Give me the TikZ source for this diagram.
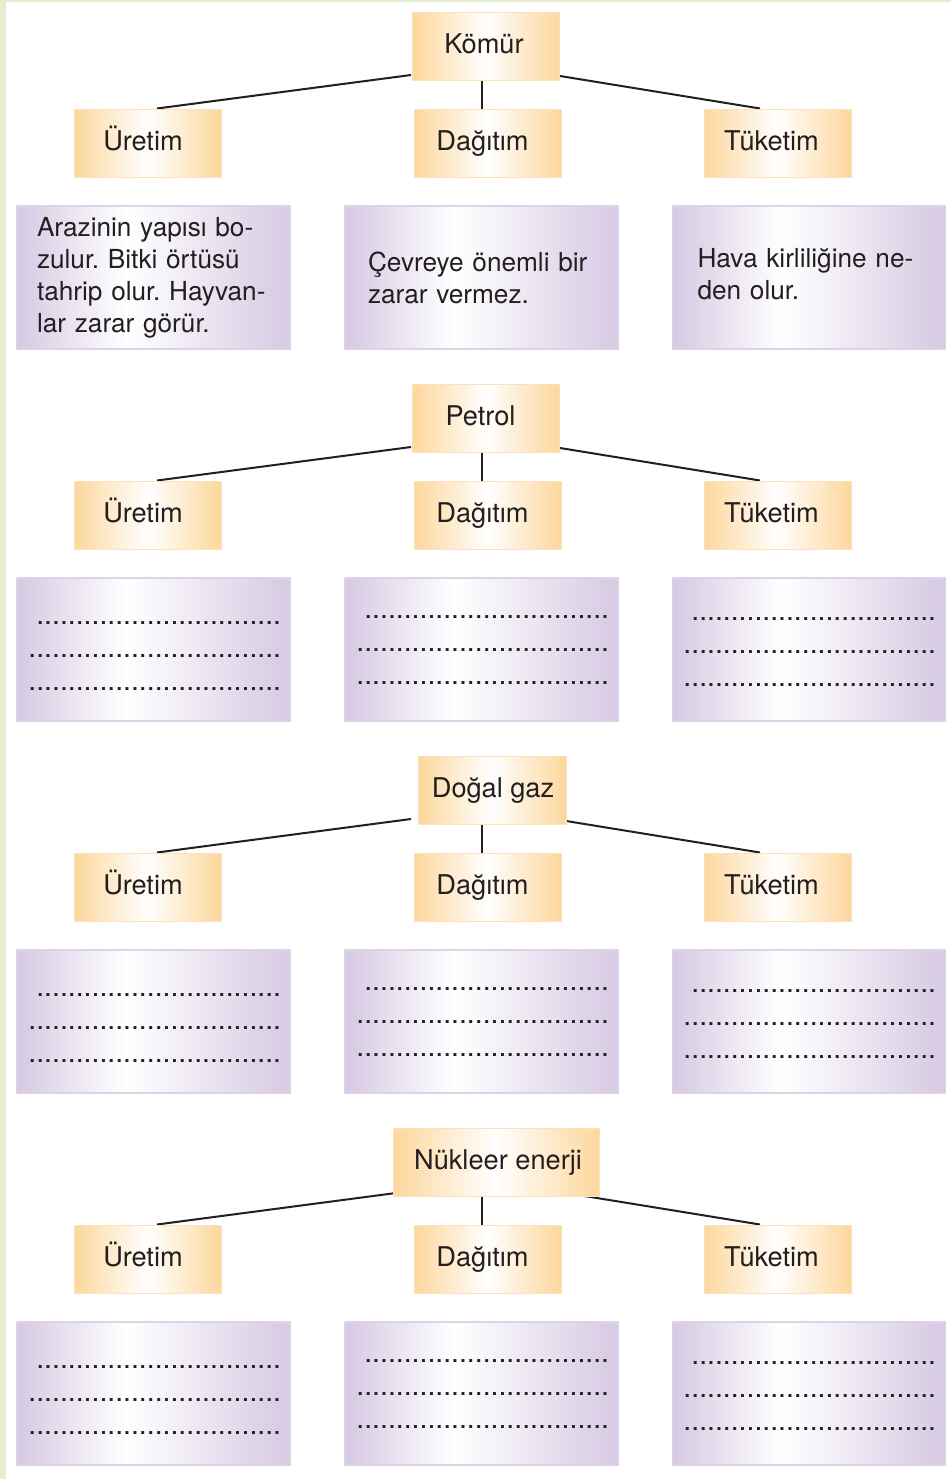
\documentclass[tikz,border=0pt]{standalone}
\usepackage{fontspec}
\setmainfont{TeX Gyre Heros}
\frenchspacing
\definecolor{pagegreen}{RGB}{230,236,205}
\definecolor{org}{RGB}{253,215,156}
\definecolor{orgline}{RGB}{252,226,188}
\definecolor{prp}{RGB}{214,201,227}
\definecolor{prpline}{RGB}{221,211,233}
\definecolor{ink}{RGB}{35,31,32}
\pgfdeclarehorizontalshading{orgshade}{100bp}{color(0bp)=(org); color(25bp)=(org); color(50bp)=(white); color(75bp)=(org); color(100bp)=(org)}
\pgfdeclarehorizontalshading{prpshade}{100bp}{color(0bp)=(prp); color(25bp)=(prp); color(45bp)=(white); color(75bp)=(prp); color(100bp)=(prp)}
\pgfdeclarelayer{bg}
\pgfdeclarelayer{lines}
\pgfsetlayers{bg,lines,main}
\tikzset{
  obox/.style={shading=orgshade, draw=orgline, line width=0.5pt, inner sep=0pt,
    minimum height=34pt, text height=10pt, text depth=3pt,
    font=\fontsize{13.6}{16}\selectfont, text=ink},
  kid/.style={obox, minimum width=73.5pt},
  pbox/.style={shading=prpshade, draw=prpline, line width=0.6pt, inner sep=0pt,
    minimum width=136.5pt, minimum height=71.5pt, font=\fontsize{13.1}{16}\selectfont, text=ink},
  ptext/.style={pbox, align=left},
  dotlines/.style={inner sep=0pt, align=right, font=\fontsize{14.2}{16.5}\selectfont, text=ink},
  conn/.style={draw=ink, line width=1pt}
}
\begin{document}
\begin{tikzpicture}[x=0.5pt,y=-0.5pt]
\begin{pgfonlayer}{bg}
  \fill[white] (0,0) rectangle (951,1479);
  \fill[pagegreen] (0,0) rectangle (6,1479);
  \fill[pagegreen] (0,0) rectangle (951,1.5);
\end{pgfonlayer}
\useasboundingbox (0,0) rectangle (951,1479);

% orange boxes and connectors
\foreach \k/\nm/\cx/\w/\sh in {0/Kömür/485.5/73.5/1.5, 1/Petrol/485.5/73.5/5, 2/Doğal gaz/492/74/-1, 3/Nükleer enerji/496/103/-2}{
  \node[obox, minimum width=\w pt] (p\k) at (\cx,{46.5+372*\k}) {\nm\kern\sh pt};
  \node[kid] (u\k) at (147.5,{143+372*\k}) {Üretim\kern4.5pt};
  \node[kid] (d\k) at (487.5,{143+372*\k}) {Dağıtım\kern5pt};
  \node[kid] (t\k) at (777.5,{143+372*\k}) {Tüketim\kern6pt};
  \coordinate (l\k) at (411,{75+372*\k});
  \coordinate (r\k) at (560,{76+372*\k});
  \begin{pgfonlayer}{lines}
    \draw[conn] (l\k) -- ([xshift=4.75pt]u\k.north);
    \draw[conn] (r\k) -- ([xshift=-8.75pt]t\k.north);
    \draw[conn] ([xshift=-2.75pt]d\k.north) -- ([xshift=-2.75pt]d\k.north |- p\k.south);
  \end{pgfonlayer}
}

% first row of purple boxes with text
\node[ptext, inner xsep=10pt, text width=116.5pt] (a0) at (153.5,277.5)
  {Arazinin yapısı bo-\\zulur. Bitki örtüsü\\tahrip olur. Hayvan-\\lar zarar görür.};
\node[ptext, inner xsep=11.5pt, text width=113.5pt] (b0) at (481.5,277.5)
  {Çevreye önemli bir\\zarar vermez.};
\node[ptext, inner xsep=12.5pt, text width=111.5pt, text depth=20pt] (c0) at (809,277.5)
  {Hava kirliliğine ne-\\den olur.};

% purple boxes with dotted lines
\foreach \k in {1,2,3}{
  \node[pbox] (a\k) at (153.5,{277.5+372*\k}) {};
  \node[pbox] (b\k) at (481.5,{277.5+372*\k}) {};
  \node[pbox] (c\k) at (809,{277.5+372*\k}) {};
  \node[dotlines, anchor=east] (da\k) at (281.5,{284+372*\k})
    {...............................\\................................\\................................};
  \node[dotlines, anchor=east] (db\k) at (609.5,{278.5+372*\k})
    {...............................\\................................\\................................};
  \node[dotlines, anchor=east] (dc\k) at (936.5,{280.5+372*\k})
    {...............................\\................................\\................................};
}
\end{tikzpicture}
\end{document}
